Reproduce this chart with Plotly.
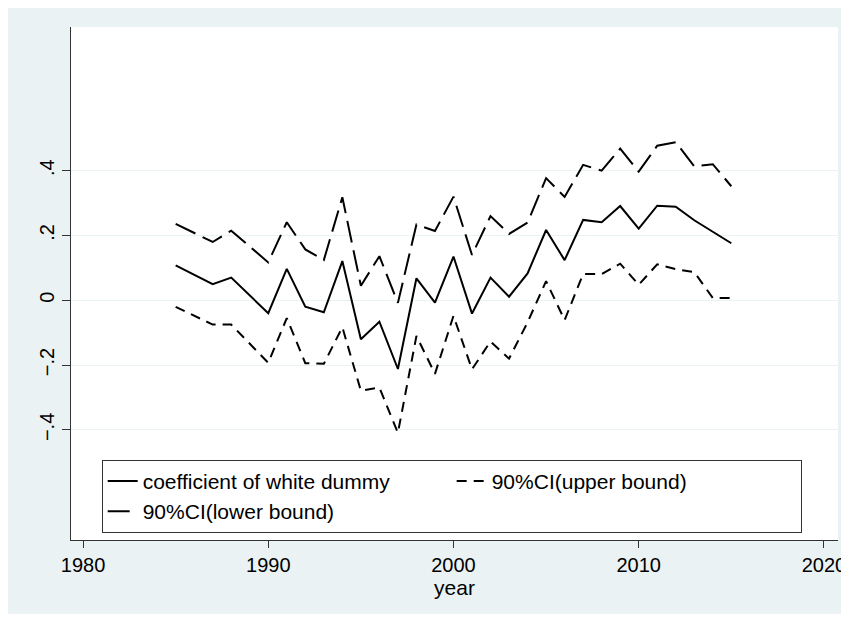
import plotly.graph_objects as go

years = list(range(1985, 2016))

coef = [0.108, 0.079, 0.050, 0.070, 0.015, -0.040, 0.097, -0.020, -0.037, 0.121,
        -0.120, -0.066, -0.212, 0.068, -0.007, 0.135, -0.041, 0.070, 0.011, 0.083,
        0.217, 0.124, 0.248, 0.241, 0.291, 0.221, 0.292, 0.289, 0.247, 0.212, 0.176]

# long-dash line (top), labelled "lower bound" in the original legend
ci_top = [0.236, 0.207, 0.180, 0.215, 0.165, 0.117, 0.241, 0.157, 0.124, 0.318,
          0.045, 0.136, -0.008, 0.234, 0.214, 0.320, 0.140, 0.260, 0.205, 0.240,
          0.377, 0.319, 0.418, 0.400, 0.468, 0.397, 0.477, 0.488, 0.413, 0.420, 0.352]

# short-dash line (bottom), labelled "upper bound" in the original legend
ci_bottom = [-0.020, -0.047, -0.075, -0.075, -0.133, -0.193, -0.055, -0.194, -0.196, -0.083,
             -0.279, -0.269, -0.409, -0.110, -0.227, -0.048, -0.213, -0.127, -0.180, -0.068,
             0.059, -0.061, 0.081, 0.081, 0.113, 0.048, 0.111, 0.096, 0.087, 0.007, 0.007]

y_ticks = [-0.4, -0.2, 0, 0.2, 0.4]
y_tick_text = ["\u2212.4", "\u2212.2", "0", ".2", ".4"]
x_ticks = [1980, 1990, 2000, 2010, 2020]

BG = "#EAF2F3"
FONT = "Liberation Sans, Arial, sans-serif"

fig = go.Figure()
fig.add_trace(go.Scatter(x=years, y=coef, mode="lines", name="coefficient of white dummy",
                         line=dict(color="black", width=2)))
fig.add_trace(go.Scatter(x=years, y=ci_bottom, mode="lines", name="90%CI(upper bound)",
                         line=dict(color="black", width=2, dash="10px,7px")))
fig.add_trace(go.Scatter(x=years, y=ci_top, mode="lines", name="90%CI(lower bound)",
                         line=dict(color="black", width=2, dash="22px,8px")))

# outer light background with thin white frame, white plot region on top
fig.add_shape(type="rect", xref="paper", yref="paper", x0=-0.086, x1=1.06, y0=-0.144, y1=1.043,
              fillcolor=BG, line=dict(width=0), layer="below")
fig.add_shape(type="rect", xref="paper", yref="paper", x0=0, x1=1, y0=0, y1=1,
              fillcolor="white", line=dict(width=0), layer="below")

fig.update_xaxes(
    range=[1979.35, 2020.76],
    tickvals=x_ticks,
    showgrid=False,
    zeroline=False,
    automargin=False,
    showline=True, linecolor="#333333", linewidth=1,
    ticks="outside", ticklen=7, tickcolor="#333333",
    tickfont=dict(size=20, color="black", family=FONT),
    title=dict(text="year", font=dict(size=21, color="black", family=FONT), standoff=4),
)
fig.update_yaxes(
    range=[-0.7398, 0.8435],
    tickvals=y_ticks,
    ticktext=y_tick_text,
    tickangle=-90,
    showgrid=True, gridcolor=BG, gridwidth=1,
    zeroline=False,
    automargin=False,
    showline=True, linecolor="#333333", linewidth=1,
    ticks="outside", ticklen=8, tickcolor="#333333",
    tickfont=dict(size=20, color="black", family=FONT),
)
# page body adds an 8px margin, so the figure is a bit smaller and shifted up/left
fig.update_layout(
    width=841, height=614,
    margin=dict(l=63, r=11, t=19, b=82),
    paper_bgcolor="white",
    plot_bgcolor="white",
    font=dict(family=FONT, color="black"),
    showlegend=True,
    legend=dict(
        orientation="h",
        x=0.04, xanchor="left",
        y=0.014, yanchor="bottom",
        bgcolor="white",
        bordercolor="#333333", borderwidth=1,
        font=dict(size=21, family=FONT, color="black"),
        entrywidth=304,
        traceorder="normal",
    ),
)

fig.write_html("out.html")
